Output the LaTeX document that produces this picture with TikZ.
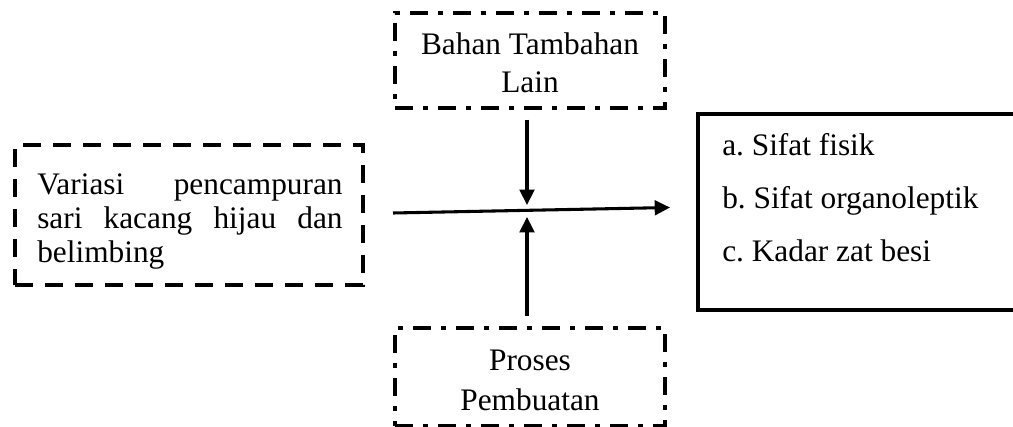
\documentclass[tikz,border=0pt]{standalone}
\usepackage{fontspec}
\setmainfont{Liberation Serif}
\usetikzlibrary{arrows.meta}
\tolerance=10000
\hyphenpenalty=10000
\exhyphenpenalty=10000
\frenchspacing
\begin{document}
\begin{tikzpicture}[x=0.75pt,y=-0.75pt,
  txt/.style={inner sep=0pt, font=\fontsize{23.5}{28}\selectfont},
  dashbox/.style={draw, line width=2.3pt, dash pattern=on 13.5pt off 9pt, inner sep=0pt},
  dotdashbox/.style={draw, line width=2.3pt, dash pattern=on 13.5pt off 7.5pt on 3.75pt off 7.5pt, inner sep=0pt},
  solidbox/.style={draw, line width=2.5pt, inner sep=0pt},
  arr/.style={line width=2.3pt, -{Triangle[length=11.5pt,width=11pt]}}
]
\useasboundingbox (0,0) rectangle (1013,427);
\clip (0,0) rectangle (1013,427);
% boxes
\node[dashbox, minimum width=261pt, minimum height=105pt] (leftbox) at (189,215) {};
\node[dotdashbox, minimum width=202.5pt, minimum height=71.25pt] (topbox) at (530,60.5) {};
\node[dotdashbox, minimum width=202.5pt, minimum height=73.5pt] (botbox) at (530,377) {};
\node[solidbox, minimum width=256.5pt, minimum height=147pt] (rightbox) at (869,212) {};
% texts
\node[txt, anchor=base west, text width=229pt, align=justify,
  font=\fontsize{23.5}{25.5}\selectfont] (lefttxt) at (37,195)
  {Variasi pencampuran sari kacang hijau dan belimbing};
\node[txt, anchor=base, align=center, font=\fontsize{23.5}{28.5}\selectfont] (toptxt) at (530,93)
  {Bahan Tambahan\\Lain};
\node[txt, anchor=base, align=center, font=\fontsize{23.5}{30}\selectfont] (bottxt) at (530,410)
  {Proses\\Pembuatan};
\node[txt, anchor=base west, align=left, font=\fontsize{23.5}{40}\selectfont] (righttxt) at (722,262)
  {a. Sifat fisik\\b. Sifat organoleptik\\c. Kadar zat besi};
% connectors
\coordinate (hs) at (393,213);
\coordinate (he) at (670,207.5);
\coordinate (jt) at (527,205);
\coordinate (jb) at (527,217);
\draw[arr] (hs) -- (he);
\draw[arr, shorten <=7.5pt] (topbox.south -| jt) -- (jt);
\draw[arr, shorten <=7.5pt] (botbox.north -| jb) -- (jb);
\end{tikzpicture}
\end{document}
